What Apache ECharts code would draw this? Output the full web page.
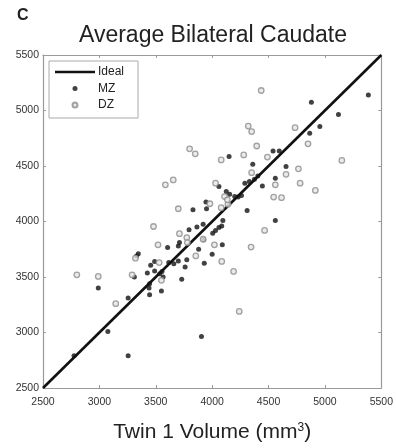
<!DOCTYPE html>
<html>
<head>
<meta charset="utf-8">
<script src="https://cdn.jsdelivr.net/npm/echarts@6/dist/echarts.min.js"></script>
<style>
  html, body { margin: 0; padding: 0; background: #fff; }
  #chart { width: 396px; height: 448px; }
</style>
</head>
<body>
<div id="chart"></div>
<script>
// axis range and ticks (mm^3)
const axisMin = 2500
const axisMax = 5500
const tickStep = 500

// identity line endpoints
const idealLine = [[2500, 2500], [5500, 5500]]

// monozygotic pairs [twin 1, twin 2]
const mzPairs = [
  [2775, 2790], [3075, 3010], [3255, 2790], [3905, 2965], [2990, 3400],
  [3255, 3310], [3310, 3500], [3345, 3710], [3330, 3690], [3425, 3535],
  [3445, 3440], [3440, 3400], [3445, 3340], [3490, 3555], [3490, 3640],
  [3455, 3605], [3535, 3530], [3555, 3550], [3565, 3500], [3550, 3375],
  [3605, 3765], [3615, 3630], [3660, 3620], [3700, 3645], [3700, 3780],
  [3710, 3810], [3730, 3480], [3760, 3590], [3775, 3655], [3795, 3925],
  [3830, 4105], [3865, 3950], [3880, 3750], [3920, 3975], [3925, 3835],
  [3930, 3625], [3945, 4175], [3950, 4115], [4000, 3705], [4005, 3895],
  [4030, 3920], [4060, 3945], [4085, 3960], [4090, 3790], [4095, 4010],
  [4060, 4315], [4150, 4585], [4290, 4345], [4330, 4360], [4375, 4380],
  [4310, 4100], [4360, 4515], [4405, 4410], [4445, 4320], [4540, 4635],
  [4595, 4635], [4560, 4390], [4560, 4010], [4655, 4495], [4865, 4795],
  [4955, 4855], [4880, 5075], [5120, 4965], [5385, 5140], [4125, 4270],
  [4155, 4245], [4200, 4225], [4230, 4220], [4260, 4235]
]

// dizygotic pairs [twin 1, twin 2]
const dzPairs = [
  [2800, 3520], [2990, 3505], [3145, 3260], [3290, 3520], [3320, 3670],
  [3480, 3955], [3520, 3790], [3530, 3630], [3550, 3470], [3585, 4330],
  [3655, 4375], [3700, 4115], [3710, 3890], [3775, 3855], [3780, 3810],
  [3800, 4655], [3850, 4610], [3855, 3690], [3920, 3840], [3980, 4160],
  [4020, 3790], [4030, 4345], [4080, 4125], [4080, 4555], [4085, 3640],
  [4140, 4155], [4190, 3550], [4240, 3190], [4280, 4600], [4320, 4860],
  [4350, 4810], [4345, 3770], [4350, 4440], [4395, 4680], [4435, 5180],
  [4465, 3920], [4490, 4580], [4545, 4220], [4560, 4330], [4615, 4215],
  [4655, 4425], [4735, 4845], [4765, 4475], [4780, 4345], [4850, 4700],
  [4915, 4280], [5150, 4550], [4110, 4225], [4135, 4195]
]

const chart = echarts.init(document.getElementById('chart'))

const font = 'Liberation Sans, Arial, sans-serif'

const baseAxis = {
  type: 'value',
  min: axisMin,
  max: axisMax,
  interval: tickStep,
  splitLine: { show: false },
  axisLine: { show: true, onZero: false, lineStyle: { color: '#9a9a9a', width: 1.2 } },
  axisTick: { show: true, inside: true, length: 3, lineStyle: { color: '#9a9a9a' } },
  axisLabel: { color: '#333', fontSize: 10.5, fontFamily: font, formatter: v => String(v) }
}

chart.setOption({
  animation: false,
  textStyle: { fontFamily: font },
  title: [
    {
      text: 'C',
      left: 12,
      top: 3,
      textStyle: { fontSize: 16, fontWeight: 'bold', color: '#222', fontFamily: font }
    },
    {
      text: 'Average Bilateral Caudate',
      left: 208,
      textAlign: 'center',
      top: 19,
      textStyle: { fontSize: 23, fontWeight: 'normal', color: '#222', fontFamily: font }
    }
  ],
  legend: {
    left: 49,
    top: 61,
    orient: 'vertical',
    data: [
      { name: 'Ideal', icon: 'path://M0,0 L40,0 L40,2.6 L0,2.6 Z' },
      { name: 'MZ', icon: 'circle' },
      { name: 'DZ', icon: 'circle' }
    ],
    itemWidth: 40,
    itemHeight: 5,
    itemGap: 4.5,
    padding: [5, 14, 7, 6],
    borderColor: '#aaa',
    borderWidth: 1,
    textStyle: { fontSize: 12, color: '#222', fontFamily: font, padding: [0, 0, 0, -2] }
  },
  grid: { left: 43, right: 14, top: 55, bottom: 53 },
  xAxis: [
    Object.assign({}, baseAxis, {
      position: 'bottom',
      axisLabel: Object.assign({}, baseAxis.axisLabel, { margin: 9 }),
      name: 'Twin 1 Volume (mm{sup|3})',
      nameLocation: 'middle',
      nameGap: 34,
      nameTextStyle: {
        fontSize: 21, color: '#222', fontFamily: font,
        rich: { sup: { fontSize: 12, verticalAlign: 'top', padding: [0, 0, 9, 0], color: '#222' } }
      }
    }),
    Object.assign({}, baseAxis, { position: 'top', axisLabel: { show: false } })
  ],
  yAxis: [
    Object.assign({}, baseAxis, { position: 'left', axisLabel: Object.assign({}, baseAxis.axisLabel, { margin: 4 }) }),
    Object.assign({}, baseAxis, { position: 'right', axisLabel: { show: false } })
  ],
  series: [
    {
      name: 'Ideal',
      type: 'line',
      data: idealLine,
      symbol: 'none',
      lineStyle: { color: '#111', width: 2.6 },
      itemStyle: { color: '#111' },
      z: 3
    },
    {
      name: 'MZ',
      type: 'scatter',
      data: mzPairs,
      symbol: 'circle',
      symbolSize: 5,
      itemStyle: { color: '#111' },
      z: 4
    },
    {
      name: 'DZ',
      type: 'scatter',
      data: dzPairs,
      symbol: 'circle',
      symbolSize: 5.5,
      itemStyle: { color: '#e6e6e6', borderColor: '#8c8c8c', borderWidth: 1.3 },
      z: 4
    }
  ]
})
</script>
</body>
</html>
